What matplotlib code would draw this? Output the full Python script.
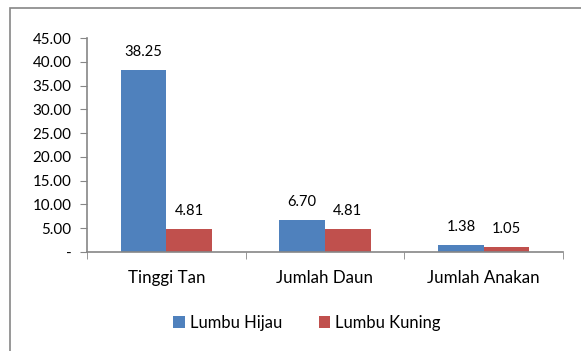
import matplotlib
matplotlib.use("Agg")
import matplotlib.pyplot as plt
import numpy as np
from matplotlib.patches import Rectangle

categories = ["Tinggi Tan", "Jumlah Daun", "Jumlah Anakan"]
series_names = ["Lumbu Hijau", "Lumbu Kuning"]
lumbu_hijau = [38.25, 6.70, 1.38]
lumbu_kuning = [4.81, 4.81, 1.05]
y_ticks = [0, 5, 10, 15, 20, 25, 30, 35, 40, 45]

colors = ["#4F81BD", "#C0504D"]
axis_gray = "#868686"

plt.rcParams["font.family"] = ["Lato", "DejaVu Sans"]

fig = plt.figure(figsize=(5.81, 3.51), dpi=100)
# chart frame (extends past the right and bottom edges)
fig.patches.append(Rectangle((10 / 581, -0.1), 1.2, (351 - 8) / 351 + 0.1,
                             transform=fig.transFigure, fill=False,
                             edgecolor=axis_gray, linewidth=1.2))

ax = fig.add_axes([87 / 581, 1 - 252 / 351, (563 - 87) / 581, (252 - 38) / 351])

x = np.arange(len(categories))
w = 0.287
for i, (vals, name) in enumerate(zip([lumbu_hijau, lumbu_kuning], series_names)):
    pos = x + (i - 0.5) * w
    bars = ax.bar(pos, vals, width=w, color=colors[i], label=name, zorder=2)
    for b, v in zip(bars, vals):
        ax.annotate(f"{v:.2f}", (b.get_x() + b.get_width() / 2, v),
                    xytext=(0, 8), textcoords="offset points",
                    ha="center", va="bottom", fontsize=10.6, color="#000000")

ax.set_xlim(-0.5, len(categories) - 0.5)
ax.set_ylim(0, 45)
ax.set_yticks(y_ticks)
ax.set_yticklabels(["-" if t == 0 else f"{t:.2f}" for t in y_ticks])

ax.set_xticks(x)
ax.set_xticklabels(categories)
ax.set_xticks(np.arange(len(categories) + 1) - 0.5, minor=True)
ax.tick_params(axis="x", which="major", length=0, pad=13, labelsize=12.2)
ax.tick_params(axis="x", which="minor", length=5, color=axis_gray, direction="out")
ax.tick_params(axis="y", length=5, color=axis_gray, direction="out", pad=6, labelsize=10.9)

for s in ["top", "right"]:
    ax.spines[s].set_visible(False)
for s in ["left", "bottom"]:
    ax.spines[s].set_color(axis_gray)
    ax.spines[s].set_linewidth(1.2)

fig.legend(loc="center", bbox_to_anchor=(307 / 581, 1 - 323 / 351), ncol=2,
           frameon=False, fontsize=11.9, handlelength=0.7, handleheight=0.7,
           handletextpad=0.3, columnspacing=2.2)

fig.savefig("out.png", dpi=100)
